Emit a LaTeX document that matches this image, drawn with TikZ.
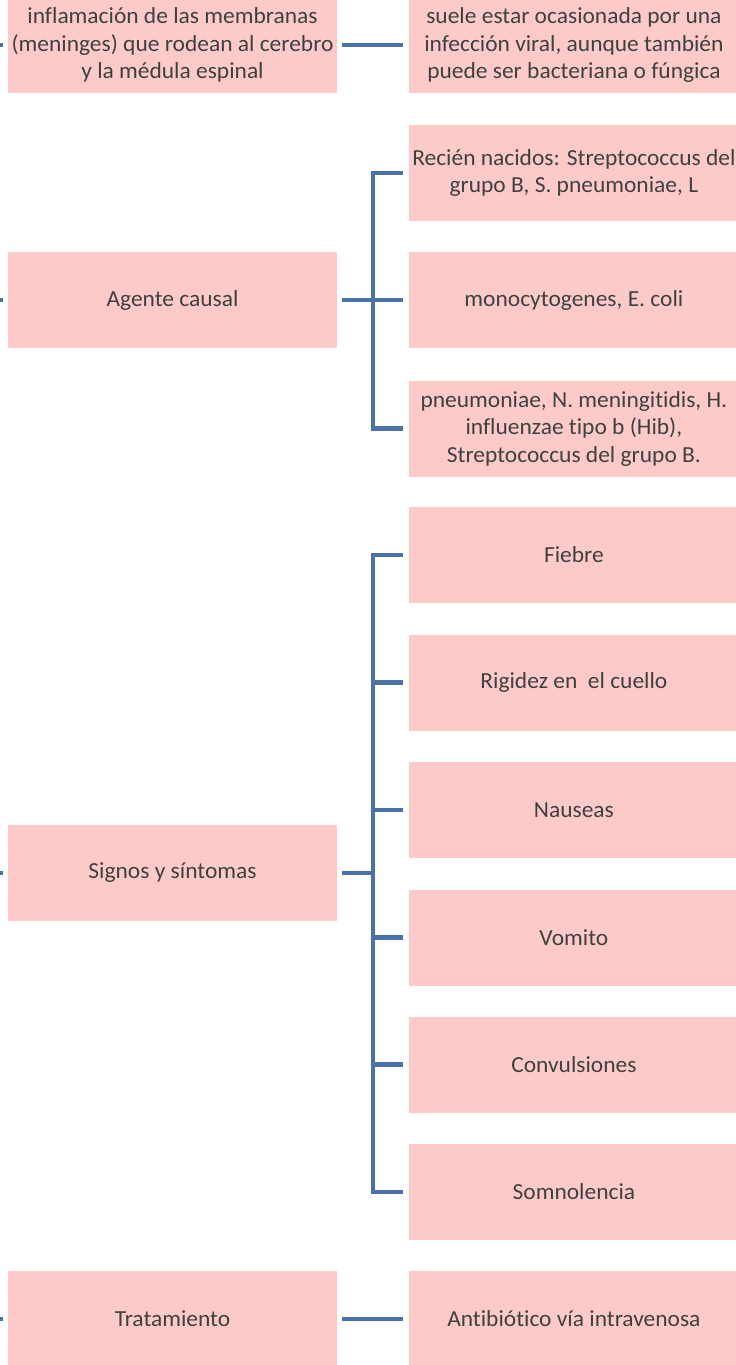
\documentclass[tikz,border=0pt]{standalone}
\usepackage{fontspec}
\setmainfont{Carlito}[FakeStretch=1.02,Ligatures=NoCommon]
\usetikzlibrary{positioning}
\definecolor{boxpink}{RGB}{253,202,202}
\definecolor{linkblue}{RGB}{74,114,168}
\definecolor{inkgrey}{RGB}{64,64,64}
\tikzset{
     box/.style={rectangle,fill=boxpink,text=inkgrey,align=center,inner sep=0pt,minimum width=329pt,minimum height=96pt,font=\fontsize{23}{27.5}\selectfont},
     link/.style={draw=linkblue,line width=4.5pt}
     }

\begin{document}
\begin{tikzpicture}[x=1pt,y=-1pt]
            \useasboundingbox (0,0) rectangle (736,1365);
            \clip (0,0) rectangle (736,1365);
            % Place nodes
            \node[box] (definicion) at (172.5,45) {inflamación de las membranas\\(meninges) que rodean al cerebro\\y la médula espinal};
            \node[box] [right=72pt of definicion] (origen) {suele estar ocasionada por una\\infección viral, aunque también\\puede ser bacteriana o fúngica};
            \node[box] (agente) at (172.5,300) {Agente causal};
            \node[box] [right=72pt of agente] (agente2) {monocytogenes, E. coli};
            \node[box] (agente1) at (agente2 |- 0,173) {Recién nacidos: Streptococcus del\\grupo B, S. pneumoniae, L};
            \node[box] (agente3) at (agente2 |- 0,428.5) {pneumoniae, N. meningitidis, H.\\influenzae tipo b (Hib),\\Streptococcus del grupo B.};
            \node[box] (signos) at (172.5,873) {Signos y síntomas};
            \node[box] (fiebre) at (agente2 |- 0,555) {Fiebre};
            \node[box] (rigidez) at (agente2 |- 0,682.5) {Rigidez en~ el cuello};
            \node[box] (nauseas) at (agente2 |- 0,810) {Nauseas};
            \node[box] (vomito) at (agente2 |- 0,937.5) {Vomito};
            \node[box] (convulsiones) at (agente2 |- 0,1064.5) {Convulsiones};
            \node[box] (somnolencia) at (agente2 |- 0,1192) {Somnolencia};
            \node[box] (tratamiento) at (172.5,1319) {Tratamiento};
            \node[box] [right=72pt of tratamiento] (antibiotico) {Antibiótico vía intravenosa};
            % Cut-off links coming from the left
            \coordinate (p1) at (-10,45);
            \coordinate (p2) at (-10,300);
            \coordinate (p3) at (-10,873);
            \coordinate (p4) at (-10,1319);
            \draw[link,shorten >=5pt] (p1) -- (definicion.west);
            \draw[link,shorten >=5pt] (p2) -- (agente.west);
            \draw[link,shorten >=5pt] (p3) -- (signos.west);
            \draw[link,shorten >=5pt] (p4) -- (tratamiento.west);
            % Draw edges
            \draw[link,shorten <=5pt,shorten >=6pt] (definicion) -- (origen);
            \draw[link,shorten <=5pt,shorten >=6pt] (tratamiento) -- (antibiotico);
            \coordinate (ja) at (373,300);
            \coordinate (js) at (373,873);
            \draw[link,shorten <=5pt] (agente.east) -- (ja);
            \draw[link,shorten >=6pt] (agente1.west) ++(-36,0) |- (agente3.west);
            \draw[link,shorten >=6pt] (agente1.west) ++(-38.25,0) -- (agente1.west);
            \draw[link,shorten >=6pt] (ja) -- (agente2.west);
            \draw[link,shorten <=5pt] (signos.east) -- (js);
            \draw[link,shorten >=6pt] (fiebre.west) ++(-38.25,0) -- (fiebre.west);
            \draw[link,shorten >=6pt] (fiebre.west) ++(-36,0) |- (somnolencia.west);
            \foreach \child in {rigidez,nauseas,vomito,convulsiones}
              \draw[link,shorten >=6pt] (js |- \child.west) -- (\child.west);
        \end{tikzpicture}
\end{document}
